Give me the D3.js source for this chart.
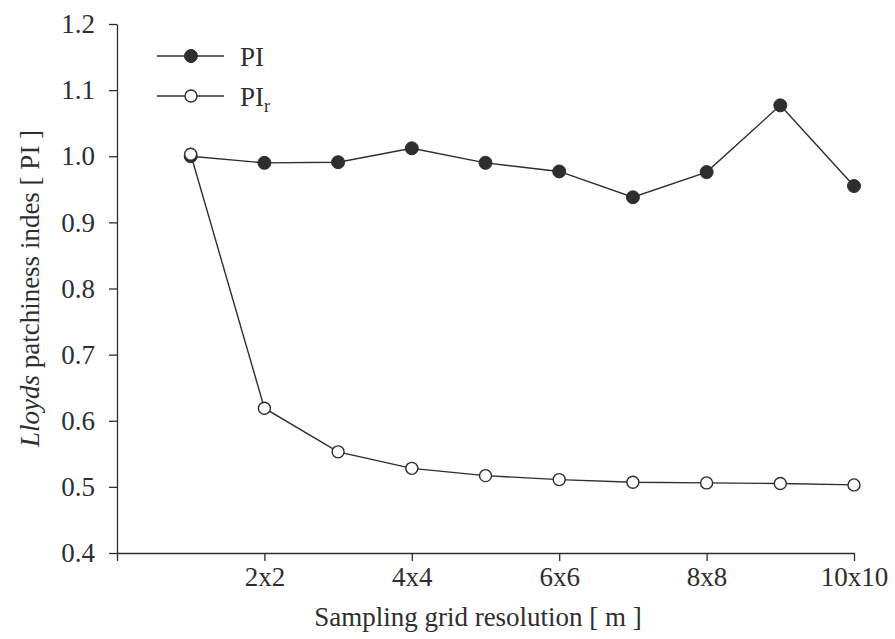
<!DOCTYPE html>
<html>
<head>
<meta charset="utf-8">
<script src="https://cdn.jsdelivr.net/npm/d3@7"></script>
<style>
  html, body { margin: 0; padding: 0; background: #fff; }
</style>
</head>
<body>
<svg id="chart" width="895" height="639"></svg>
<script>
// ---- data ----
const resolution = [1, 2, 3, 4, 5, 6, 7, 8, 9, 10];
const piValues  = [1.000, 0.990, 0.991, 1.012, 0.990, 0.977, 0.938, 0.976, 1.077, 0.955];
const pirValues = [1.003, 0.619, 0.553, 0.528, 0.517, 0.511, 0.507, 0.506, 0.505, 0.503];
const xTickValues = [0, 2, 4, 6, 8, 10];
const xTickLabels = ["", "2x2", "4x4", "6x6", "8x8", "10x10"];
const yTickValues = [0.4, 0.5, 0.6, 0.7, 0.8, 0.9, 1.0, 1.1, 1.2];

const ink = "#2e2e30";
const serif = "'Liberation Serif', 'Times New Roman', serif";
const svg = d3.select("#chart");
const x = d3.scaleLinear().domain([0, 10]).range([117, 854]);
const y = d3.scaleLinear().domain([0.4, 1.2]).range([553, 24]);

// axes
const xAxis = svg.append("g").attr("transform", `translate(0,${y(0.4)})`)
  .call(d3.axisBottom(x).tickValues(xTickValues).tickSizeInner(8).tickSizeOuter(0).tickPadding(6)
    .tickFormat((d, i) => xTickLabels[i]));
const yAxis = svg.append("g").attr("transform", `translate(${x(0)},0)`)
  .call(d3.axisLeft(y).tickValues(yTickValues).tickSizeInner(8).tickSizeOuter(0).tickPadding(14)
    .tickFormat(d3.format(".1f")));
[xAxis, yAxis].forEach(g => {
  g.attr("font-family", serif).attr("font-size", 27);
  g.selectAll("path, line").attr("stroke", ink).attr("stroke-width", 1.3);
  g.selectAll("text").attr("fill", ink);
});

// axis titles
svg.append("text").attr("x", 478).attr("y", 626).attr("text-anchor", "middle")
  .attr("font-family", serif).attr("font-size", 27).attr("fill", ink).text("Sampling grid resolution [ m ]");
const yl = svg.append("text").attr("transform", `translate(39,${(y(0.4) + y(1.2)) / 2}) rotate(-90)`)
  .attr("text-anchor", "middle").attr("font-family", serif).attr("font-size", 27).attr("fill", ink);
yl.append("tspan").attr("font-style", "italic").text("Lloyds");
yl.append("tspan").text(" patchiness indes [ PI ]");

// lines
const line = d3.line().x((d, i) => x(resolution[i])).y(d => y(d));
svg.append("path").datum(piValues).attr("d", line).attr("fill", "none").attr("stroke", ink).attr("stroke-width", 1.4);
svg.append("path").datum(pirValues).attr("d", line).attr("fill", "none").attr("stroke", ink).attr("stroke-width", 1.4);

// markers
svg.selectAll(".pi").data(piValues).enter().append("circle")
  .attr("cx", (d, i) => x(resolution[i])).attr("cy", d => y(d)).attr("r", 6.5)
  .attr("fill", ink).attr("stroke", ink).attr("stroke-width", 1);
svg.selectAll(".pir").data(pirValues).enter().append("circle")
  .attr("cx", (d, i) => x(resolution[i])).attr("cy", d => y(d)).attr("r", 6)
  .attr("fill", "#fff").attr("stroke", ink).attr("stroke-width", 1.4);

// legend
const legend = [
  { label: "PI", sub: null, filled: true, yy: 56 },
  { label: "PI", sub: "r", filled: false, yy: 96 }
];
legend.forEach(l => {
  svg.append("line").attr("x1", 157).attr("x2", 224).attr("y1", l.yy).attr("y2", l.yy)
    .attr("stroke", ink).attr("stroke-width", 1.4);
  svg.append("circle").attr("cx", 191).attr("cy", l.yy).attr("r", l.filled ? 6.5 : 6)
    .attr("fill", l.filled ? ink : "#fff").attr("stroke", ink).attr("stroke-width", l.filled ? 1 : 1.4);
  const t = svg.append("text").attr("x", 240).attr("y", l.yy + 10)
    .attr("font-family", serif).attr("font-size", 27).attr("fill", ink);
  t.append("tspan").text(l.label);
  if (l.sub) t.append("tspan").attr("font-size", 18).attr("dy", 6).text(l.sub);
});
</script>
</body>
</html>
